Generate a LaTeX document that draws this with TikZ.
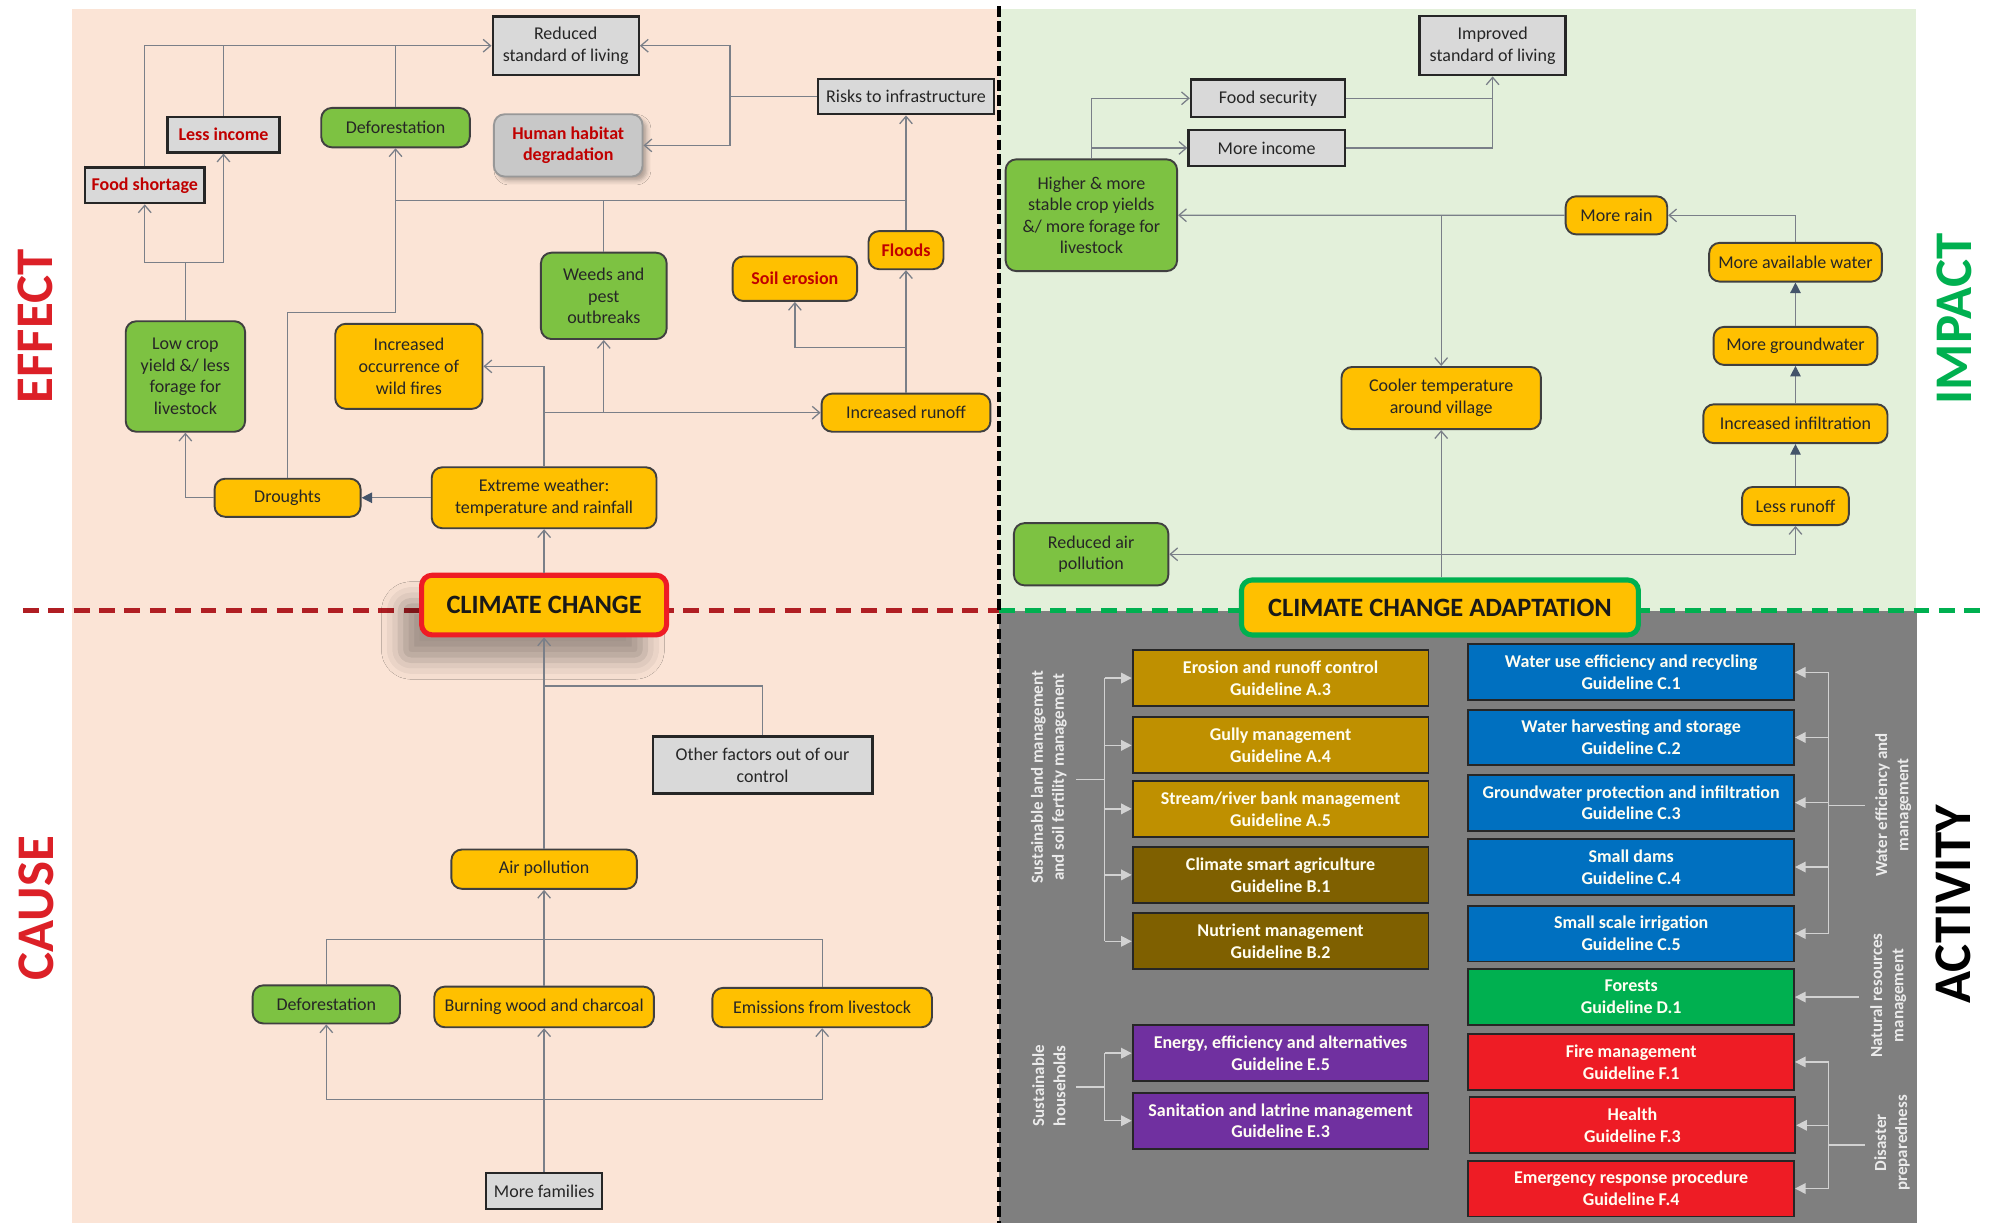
\documentclass[tikz,border=0pt]{standalone}
\usepackage{fontspec}
\setmainfont{Carlito}
\usetikzlibrary{arrows.meta,shadows.blur,calc}

\definecolor{peach}{HTML}{FBE4D6}
\definecolor{mint}{HTML}{E3F0DA}
\definecolor{panelgrey}{HTML}{7F7F7F}
\definecolor{boxgrey}{HTML}{D9D9D9}
\definecolor{amber}{HTML}{FFC000}
\definecolor{leaf}{HTML}{7DC242}
\definecolor{linegrey}{HTML}{7A7F88}
\definecolor{slate}{HTML}{44546A}
\definecolor{dashred}{HTML}{B01E23}
\definecolor{labelred}{HTML}{DC2027}
\definecolor{txtred}{HTML}{C00000}
\definecolor{ccgreen}{HTML}{00B050}
\definecolor{ccred}{HTML}{EE1C25}
\definecolor{gold}{HTML}{BF9000}
\definecolor{umber}{HTML}{7F6000}
\definecolor{ocean}{HTML}{0070C0}
\definecolor{forest}{HTML}{00B050}
\definecolor{fire}{HTML}{EE1C25}
\definecolor{violet}{HTML}{7030A0}
\definecolor{bracket}{HTML}{D2D2D2}

\tikzset{
  base/.style={inner sep=1pt, align=center, text=black!85,
    font=\fontsize{8.5}{10.2}\selectfont},
  sz/.style 2 args={minimum width={#1*0.6pt}, minimum height={#2*0.6pt}},
  rbox/.style={base, rounded corners=5pt, draw=black!75, line width=0.9pt},
  amberbox/.style={rbox, fill=amber},
  leafbox/.style={rbox, fill=leaf},
  greybox/.style={base, draw=black!85, line width=1.1pt, fill=boxgrey},
  redtxt/.style={text=txtred, font=\fontsize{8.5}{10.2}\selectfont\bfseries},
  actbox/.style={base, draw=black!85, line width=0.9pt, text=white!95!yellow,
    font=\fontsize{8.5}{10.3}\selectfont\bfseries},
  leftcol/.style={actbox, sz={233}{44}},
  rightcol/.style={actbox, sz={256.6}{44}},
  ln/.style={draw=linegrey, line width=0.6pt},
  arr/.style={ln, -{Straight Barb[length=3.5pt,width=6pt]}},
  farr/.style={ln, -{Triangle[length=5pt,width=5pt,color=slate]}},
  brk/.style={draw=bracket, line width=0.7pt},
  brkarr/.style={brk, -{Triangle[length=5pt,width=5pt]}},
  side/.style={rotate=90, font=\fontsize{25}{30}\selectfont\bfseries},
  sublabel/.style={rotate=90, text=white!92!black, align=center,
    font=\fontsize{8}{10}\selectfont\bfseries},
  keybox/.style={rounded corners=5pt, fill=amber, inner sep=1pt,
    font=\fontsize{12.5}{14}\selectfont\bfseries, text=black!90},
}

\begin{document}
\begin{tikzpicture}[x=0.6pt,y=-0.6pt]
\useasboundingbox (0,0) rectangle (1568,963);
\fill[white] (0,0) rectangle (1568,963);

% quadrant backgrounds
\fill[peach] (57,7) rectangle (787,963);
\fill[mint] (787,7) rectangle (1509,481);
\fill[panelgrey] (787,481) rectangle (1510,963);

% dividing lines
\draw[dashred, line width=2.4pt, dash pattern=on 7.5pt off 4.5pt] (18,481) -- (787,481);
\draw[ccgreen, line width=2.4pt, dash pattern=on 7.5pt off 4.5pt] (787,481) -- (1562,481);
\draw[black, line width=1.8pt, dash pattern=on 5pt off 2pt] (787,5) -- (787,963);

% quadrant titles
\node[side, text=labelred] (effect) at (28,257) {EFFECT};
\node[side, text=labelred] (cause) at (29,715) {CAUSE};
\node[side, text=ccgreen] (impact) at (1539,251) {IMPACT};
\node[side, text=black] (activity) at (1538,712) {ACTIVITY};

% ---------- effects of climate change ----------
\node[greybox, sz={115}{46}] (reduced) at (445.5,36) {Reduced\\standard of living};
\node[greybox, sz={139}{28}] (risk) at (713.5,76) {Risks to infrastructure};
\node[greybox, sz={88}{28}, redtxt] (lessinc) at (176,106) {Less income};
\node[greybox, sz={94}{28}, redtxt] (foodsh) at (114,146) {Food shortage};
\node[leafbox, sz={117}{31}] (defortop) at (311.5,100.5) {Deforestation};
\node[rbox, fill=boxgrey!92!black, draw=boxgrey!70!black, sz={117}{49}, redtxt,
  blur shadow={shadow xshift=2pt, shadow yshift=-2pt, shadow blur radius=2pt, shadow opacity=30}]
  (habitat) at (447.5,114.5) {Human habitat\\degradation};
\node[amberbox, sz={59}{30}, redtxt] (floods) at (713.5,197) {Floods};
\node[amberbox, sz={98}{35}, redtxt] (soil) at (626,219.5) {Soil erosion};
\node[leafbox, sz={99}{68}] (weeds) at (475.5,233) {Weeds and\\pest\\outbreaks};
\node[amberbox, sz={116}{67}] (fires) at (322,288.5) {Increased\\occurrence of\\wild fires};
\node[leafbox, sz={94}{87}] (lowcrop) at (146,296.5) {Low crop\\yield \&/ less\\forage for\\livestock};
\node[amberbox, sz={133}{30}] (runoff) at (713.5,325) {Increased runoff};
\node[amberbox, sz={115}{30}] (drought) at (226.5,392) {Droughts};
\node[amberbox, sz={177}{48}] (extreme) at (428.5,392) {Extreme weather:\\temperature and rainfall};
\node[keybox, draw=ccred, line width=2.4pt, sz={193}{47},
  blur shadow={shadow xshift=-10pt, shadow yshift=-12pt, shadow blur radius=9pt, shadow opacity=35}]
  (cc) at (428.5,476.5) {CLIMATE CHANGE};

\draw[arr] (cc.north) -- (extreme.south);
\draw[farr] (extreme.west) -- (drought.east);
\draw[arr] (drought.west) -| (lowcrop.south);
\coordinate (dr) at (311.5,246);
\draw[arr] (drought.north) |- (dr) -- (defortop.south);
\draw[arr] (extreme.north) |- (fires.east);
\draw[arr] (extreme.north |- runoff.west) -- (runoff.west);
\draw[arr] (weeds.south |- runoff.west) -- (weeds.south);
\draw[arr] (runoff.north) -- (floods.south);
\coordinate (ro) at (713.5,273.5);
\draw[arr] (ro) -| (soil.south);
\draw[arr] (floods.north) -- (risk.south);
\coordinate (mid) at (311.5,158);
\draw[ln] (mid) -- (floods.north |- mid);
\draw[ln] (weeds.north) -- (weeds.north |- mid);
\coordinate (lc) at (146,206.5);
\draw[ln] (lowcrop.north) -- (lc);
\draw[arr] (lc) -| (foodsh.south);
\draw[arr] (lc) -| (lessinc.south);
\draw[arr] (foodsh.north) |- (reduced.west);
\draw[ln] (lessinc.north) -- (lessinc.north |- reduced.west);
\draw[ln] (defortop.north) -- (defortop.north |- reduced.west);
\coordinate (rk) at (575,76);
\draw[ln] (risk.west) -- (rk);
\draw[arr] (rk) |- (reduced.east);
\draw[arr] (rk) |- (habitat.east);

% ---------- causes of climate change ----------
\node[greybox, sz={173}{45}] (other) at (600.5,602.5) {Other factors out of our\\control};
\node[amberbox, sz={146}{31}] (air) at (428.5,684.5) {Air pollution};
\node[leafbox, sz={116}{30}] (deforlow) at (257,791) {Deforestation};
\node[amberbox, sz={173}{32}] (burn) at (428.5,793) {Burning wood and charcoal};
\node[amberbox, sz={173}{31}] (emis) at (647.5,793.5) {Emissions from livestock};
\node[greybox, sz={91}{28}] (fam) at (428.5,938) {More families};

\draw[arr] (air.north) -- (cc.south);
\coordinate (of) at (428.5,540.3);
\draw[ln] (other.north) |- (of);
\draw[arr] (burn.north) -- (air.south);
\coordinate (em) at (428.5,739.6);
\draw[ln] (deforlow.north) |- (em) -| (emis.north);
\coordinate (mf) at (428.5,866);
\draw[ln] (fam.north) -- (mf);
\draw[arr] (mf) -| (deforlow.south);
\draw[arr] (mf) -| (emis.south);
\draw[arr] (mf) -- (burn.south);

% ---------- impact of adaptation ----------
\node[greybox, sz={115}{46.5}] (improved) at (1175.5,36) {Improved\\standard of living};
\node[greybox, sz={121}{29.6}] (foodsec) at (998.5,77.4) {Food security};
\node[greybox, sz={123}{28}] (moreinc) at (997.5,116.5) {More income};
\node[leafbox, sz={135}{88}] (higher) at (859.5,169.5) {Higher \& more\\stable crop yields\\\&/ more forage for\\livestock};
\node[amberbox, sz={80}{30}] (rain) at (1273,169.6) {More rain};
\node[amberbox, sz={136}{30.5}] (water) at (1414,206.5) {More available water};
\node[amberbox, sz={129}{30}] (ground) at (1414,272.4) {More groundwater};
\node[amberbox, sz={145}{30.6}] (infil) at (1414,333.7) {Increased infiltration};
\node[amberbox, sz={84}{30}] (lessrun) at (1414,398.5) {Less runoff};
\node[amberbox, sz={157}{49}] (cooler) at (1135,313.5) {Cooler temperature\\around village};
\node[leafbox, sz={121.6}{49}] (redair) at (859.3,436.5) {Reduced air\\pollution};
\node[keybox, draw=ccgreen, line width=2.4pt, sz={312.6}{43.3}] (cca) at (1134,478.4) {CLIMATE CHANGE ADAPTATION};

\draw[arr] (higher.north) |- (foodsec.west);
\draw[arr] (higher.north |- moreinc.west) -- (moreinc.west);
\draw[arr] (moreinc.east) -| (improved.south);
\draw[ln] (foodsec.east) -- (improved.south |- foodsec.east);
\draw[arr] (rain.west) -- (higher.east);
\draw[arr] (cooler.north |- rain.west) -- (cooler.north);
\draw[arr] (water.north) |- (rain.east);
\draw[farr] (ground.north) -- (water.south);
\draw[farr] (infil.north) -- (ground.south);
\draw[farr] (lessrun.north) -- (infil.south);
\draw[arr] (cca.north -| cooler.south) -- (cooler.south);
\coordinate (ad) at (1135,436.5);
\draw[arr] (ad) -- (redair.east);
\draw[arr] (ad) -| (lessrun.south);

% ---------- adaptation activities ----------
\node[leftcol, fill=gold] (a3) at (1008.5,534) {Erosion and runoff control\\Guideline A.3};
\node[leftcol, fill=gold] (a4) at (1008.5,587) {Gully management\\Guideline A.4};
\node[leftcol, fill=gold] (a5) at (1008.5,637) {Stream/river bank management\\Guideline A.5};
\node[leftcol, fill=umber] (b1) at (1008.5,689) {Climate smart agriculture\\Guideline B.1};
\node[leftcol, fill=umber] (b2) at (1008.5,741.3) {Nutrient management\\Guideline B.2};
\node[leftcol, fill=violet] (e5) at (1008.5,829.4) {Energy, efficiency and alternatives\\Guideline E.5};
\node[leftcol, fill=violet] (e3) at (1008.5,882.6) {Sanitation and latrine management\\Guideline E.3};

\node[rightcol, fill=ocean] (c1) at (1284.6,529.5) {Water use efficiency and recycling\\Guideline C.1};
\node[rightcol, fill=ocean] (c2) at (1284.6,580.8) {Water harvesting and storage\\Guideline C.2};
\node[rightcol, fill=ocean] (c3) at (1284.6,632.1) {Groundwater protection and infiltration\\Guideline C.3};
\node[rightcol, fill=ocean] (c4) at (1284.6,682.8) {Small dams\\Guideline C.4};
\node[rightcol, fill=ocean] (c5) at (1284.6,735.2) {Small scale irrigation\\Guideline C.5};
\node[rightcol, fill=forest] (d1) at (1284.6,785.2) {Forests\\Guideline D.1};
\node[rightcol, fill=fire] (f1) at (1284.6,836.3) {Fire management\\Guideline F.1};
\node[rightcol, fill=fire] (f3) at (1285.6,886.2) {Health\\Guideline F.3};
\node[rightcol, fill=fire] (f4) at (1284.6,936) {Emergency response procedure\\Guideline F.4};

% group labels
\node[sublabel] (slm) at (826,612) {Sustainable land management\\and soil fertility management};
\node[sublabel] (sh) at (826,855) {Sustainable\\households};
\node[sublabel] (wem) at (1491,634) {Water efficiency and\\management};
\node[sublabel] (nrm) at (1487,784) {Natural resources\\management};
\node[sublabel] (dp) at (1490,900) {Disaster\\preparedness};

% brackets
\coordinate (lb) at (870,0);
\coordinate (rb) at (1440,0);
\draw[brk] (lb |- a3.west) -- (lb |- b2.west);
\draw[brk] (847.6,614) -- (870,614);
\foreach \n in {a3,a4,a5,b1,b2} \draw[brkarr] (lb |- \n.west) -- (\n.west);
\draw[brk] (lb |- e5.west) -- (lb |- e3.west);
\draw[brk] (847.6,856) -- (870,856);
\foreach \n in {e5,e3} \draw[brkarr] (lb |- \n.west) -- (\n.west);

\draw[brk] (rb |- c1.east) -- (rb |- c5.east);
\draw[brk] (1440,634.3) -- (1469,634.3);
\foreach \n in {c1,c2,c3,c4,c5} \draw[brkarr] (rb |- \n.east) -- (\n.east);
\draw[brkarr] (1464,785.2) -- (d1.east);
\draw[brk] (rb |- f1.east) -- (rb |- f4.east);
\draw[brk] (1440,901.6) -- (1468.5,901.6);
\foreach \n in {f1,f3,f4} \draw[brkarr] (rb |- \n.east) -- (\n.east);

\end{tikzpicture}
\end{document}
